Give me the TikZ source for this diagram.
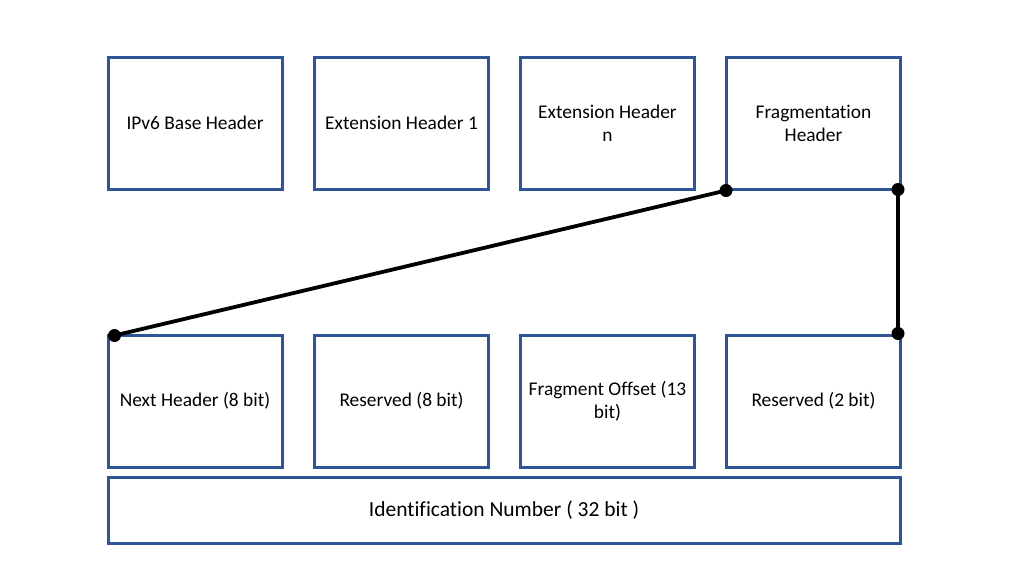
\documentclass[tikz,border=0pt]{standalone}
\usepackage{fontspec}
\setmainfont[RawFeature=-liga]{Carlito}
\usetikzlibrary{calc}
\definecolor{boxblue}{HTML}{2F5597}
\begin{document}
\begin{tikzpicture}[x=1pt,y=-1pt,
  hbox/.style={draw=boxblue,line width=3pt,minimum width=174pt,minimum height=132pt,
    align=center,inner sep=0pt,font=\fontsize{19.4}{23}\selectfont,text=black},
  conn/.style={line width=3.8pt,black},
  dotc/.style={fill=black}]
\useasboundingbox (0,0) rectangle (1024,576);
\fill[white] (0,0) rectangle (1024,576);
% top row
\node[hbox] (base) at (195,123) {IPv6 Base Header};
\node[hbox] (ext1) at (401.5,123) {Extension Header 1};
\node[hbox] (extn) at (607.5,123) {Extension Header\\n};
\node[hbox] (frag) at (813.5,123) {Fragmentation\\Header};
% bottom row
\node[hbox] (nh) at (195,401) {Next Header (8 bit)};
\node[hbox] (res8) at (401.5,401) {Reserved (8 bit)};
\node[hbox] (fo) at (607.5,401) {Fragment Offset (13\\bit)};
\node[hbox] (res2) at (813.5,401) {Reserved (2 bit)};
\node[hbox,minimum width=792pt,minimum height=66pt,font=\fontsize{21.5}{26}\selectfont] (id) at (504,510) {Identification Number ( 32 bit )};
% connector end points
\coordinate (p1) at ($(frag.south west)+(1,0)$);
\coordinate (p2) at ($(nh.north west)+(8,2)$);
\coordinate (p3) at ($(frag.south east)+(-4,-1)$);
\coordinate (p4) at ($(res2.north east)+(-4,0)$);
\draw[conn] (p1) -- (p2);
\draw[conn] (p3) -- (p4);
\foreach \p in {p1,p2,p3,p4} \fill[dotc] (\p) circle (6.5pt);
\end{tikzpicture}
\end{document}
